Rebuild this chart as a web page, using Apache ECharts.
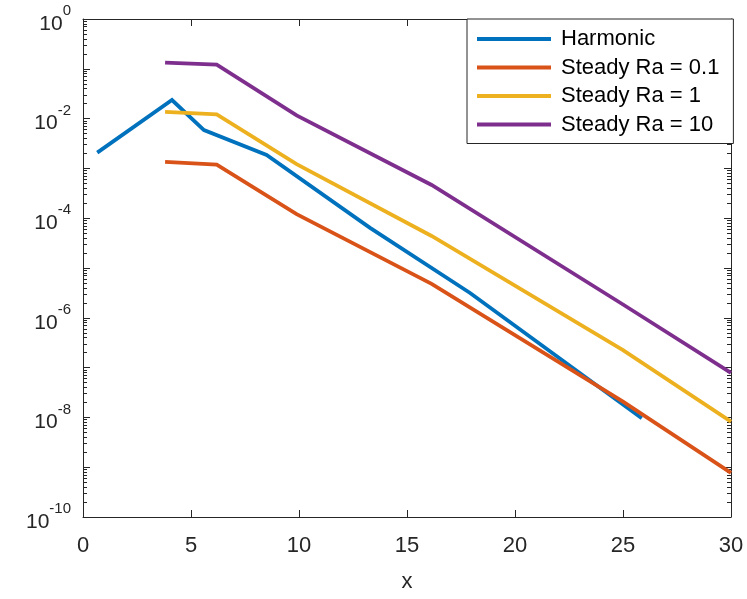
<!DOCTYPE html>
<html><head><meta charset="utf-8">
<script src="https://cdn.jsdelivr.net/npm/echarts@6/dist/echarts.min.js"></script>
<style>html,body{margin:0;padding:0;background:#fff}#c{width:747px;height:599px}</style>
</head><body><div id="c"></div>
<script>
// ---- data ----
const seriesNames = ['Harmonic', 'Steady Ra = 0.1', 'Steady Ra = 1', 'Steady Ra = 10'];
const harmonicX = [0.66, 4.12, 5.60, 8.50, 13.29, 17.92, 25.87];
const harmonicY = [2.07e-3, 2.36e-2, 5.9e-3, 1.86e-3, 6.4e-5, 3.15e-6, 9.6e-9];
const steadyX = [3.8, 6.19, 9.89, 16.14, 25.0, 30];
const ra01Y = [1.35e-3, 1.19e-3, 1.21e-4, 4.8e-6, 2.07e-8, 7.7e-10];
const ra1Y  = [1.36e-2, 1.22e-2, 1.22e-3, 4.4e-5, 2.25e-7, 8.2e-9];
const ra10Y = [0.133, 0.121, 1.16e-2, 4.64e-4, 1.85e-6, 7.8e-8];
const xTicks = [0, 5, 10, 15, 20, 25, 30];
const yExpMin = -10, yExpMax = 0;

const colors = ['#0072BD', '#D95319', '#EDB120', '#7E2F8E'];
const axisColor = '#262626';

function pairs(xs, ys) { return xs.map((x, i) => [x, ys[i]]); }

const decades = [], evenDecades = [], minors = [];
for (let e = yExpMin; e <= yExpMax; e++) {
  decades.push(Math.pow(10, e));
  if (e % 2 === 0) evenDecades.push(Math.pow(10, e));
  if (e < yExpMax) for (let m = 2; m <= 9; m++) minors.push(m * Math.pow(10, e));
}

const chart = echarts.init(document.getElementById('c'), null, {renderer: 'canvas'});
const fontFamily = '"Liberation Sans", Arial, Helvetica, sans-serif';

function yAxisDef(pos, major, showLabel) {
  return {
    type: 'log', logBase: 10, min: Math.pow(10, yExpMin), max: Math.pow(10, yExpMax),
    position: pos, offset: 0,
    axisLine: {show: major, lineStyle: {color: axisColor, width: 1}},
    axisTick: {show: true, inside: true, length: major ? 7 : 4,
      lineStyle: {color: axisColor, width: 1},
      customValues: major ? decades : minors},
    axisLabel: showLabel ? {
      show: true, customValues: evenDecades, margin: 12, color: axisColor,
      fontFamily: fontFamily,
      formatter: function (v) {
        const e = Math.round(Math.log10(v));
        return '{t| }{b|10}{s|' + e + '}';
      },
      rich: {
        t: {fontSize: 1, lineHeight: 31, verticalAlign: 'middle'},
        b: {fontSize: 21, fontFamily: fontFamily, color: axisColor, lineHeight: 21, verticalAlign: 'bottom'},
        s: {fontSize: 15, fontFamily: fontFamily, color: axisColor, lineHeight: 22, verticalAlign: 'top'}
      }
    } : {show: false},
    splitLine: {show: false},
    minorTick: {show: false}, minorSplitLine: {show: false}
  };
}

function xAxisDef(pos, showLabel) {
  return {
    type: 'value', min: 0, max: 30, interval: 5, position: pos,
    axisLine: {show: true, onZero: false, lineStyle: {color: axisColor, width: 1}},
    axisTick: {show: true, inside: true, length: 7, lineStyle: {color: axisColor}},
    axisLabel: showLabel ? {show: true, fontSize: 22, color: axisColor, margin: 18, fontFamily: fontFamily} : {show: false},
    splitLine: {show: false},
    name: showLabel ? 'x' : '', nameLocation: 'middle', nameGap: 54,
    nameTextStyle: {fontSize: 22, color: axisColor, fontFamily: fontFamily}
  };
}

const ys = [harmonicY, ra01Y, ra1Y, ra10Y];
const xs = [harmonicX, steadyX, steadyX, steadyX];

const option = {
  animation: false,
  backgroundColor: '#fff',
  textStyle: {fontFamily: fontFamily},
  grid: {left: 83, right: 16, top: 19, bottom: 82, containLabel: false, outerBoundsMode: 'none'},
  xAxis: [xAxisDef('bottom', true), xAxisDef('top', false)],
  yAxis: [yAxisDef('left', true, true), yAxisDef('left', false, false),
          yAxisDef('right', true, false), yAxisDef('right', false, false)],
  legend: {
    orient: 'vertical', left: 467, top: 19,
    backgroundColor: '#fff', borderColor: axisColor, borderWidth: 1, borderRadius: 0,
    padding: [9, 14, 8, 10], itemWidth: 74, itemHeight: 4, itemGap: 6.5, icon: 'rect',
    data: seriesNames,
    textStyle: {fontSize: 22, color: '#000', lineHeight: 22, fontFamily: fontFamily, padding: [0, 0, 0, 5]}
  },
  series: seriesNames.map((n, i) => ({
    name: n, type: 'line', xAxisIndex: 0, yAxisIndex: 0,
    data: pairs(xs[i], ys[i]),
    showSymbol: false, symbol: 'none',
    itemStyle: {color: colors[i]},
    lineStyle: {color: colors[i], width: 3.8, cap: 'butt', join: 'miter'}
  }))
};
chart.setOption(option);
</script>
</body></html>
